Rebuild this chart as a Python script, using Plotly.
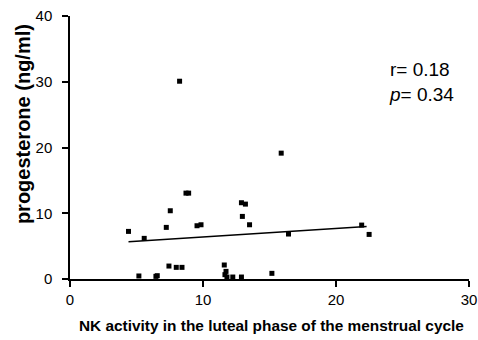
import plotly.graph_objects as go

nk_activity = [4.4, 5.58, 5.18, 6.46, 6.56, 7.24, 7.54, 7.44, 7.99, 8.42,
               8.24, 8.72, 8.92, 9.55, 9.85, 11.6, 11.73, 11.65, 11.8, 12.24,
               12.89, 13.19, 12.96, 13.5, 12.89, 15.18, 15.88, 16.43, 21.93, 22.49]
progesterone = [7.24, 6.18, 0.46, 0.4, 0.5, 7.85, 10.38, 1.97, 1.77, 1.77,
                30.08, 13.06, 13.06, 8.1, 8.25, 2.13, 1.16, 0.66, 0.3, 0.3,
                11.6, 11.39, 9.52, 8.25, 0.3, 0.86, 19.14, 6.84, 8.2, 6.78]
fit_x = [4.4, 22.3]
fit_y = [5.67, 8.0]

x_ticks = [0, 10, 20, 30]
y_ticks = [0, 10, 20, 30, 40]

font = "Liberation Sans, Arial, sans-serif"

fig = go.Figure()
fig.add_trace(go.Scatter(x=fit_x, y=fit_y, mode="lines",
                         line=dict(color="black", width=1.5), showlegend=False))
fig.add_trace(go.Scatter(x=nk_activity, y=progesterone, mode="markers",
                         marker=dict(symbol="square", size=5, color="black"),
                         showlegend=False, cliponaxis=False))

fig.update_layout(
    width=478, height=340,
    margin=dict(l=70, r=9, t=16, b=61),
    paper_bgcolor="white", plot_bgcolor="white",
    font=dict(family=font, color="black"),
    xaxis=dict(range=[0, 30], tickvals=x_ticks, showgrid=False, zeroline=False,
               showline=True, linecolor="black", linewidth=1.5, automargin=False,
               ticks="outside", ticklen=6, tickwidth=1.5, tickcolor="black",
               tickfont=dict(size=15, family=font), ticklabeloverflow="allow"),
    yaxis=dict(range=[0, 40], tickvals=y_ticks, showgrid=False, zeroline=False,
               showline=True, linecolor="black", linewidth=1.5, automargin=False,
               ticks="outside", ticklen=6, tickwidth=1.5, tickcolor="black",
               ticklabelstandoff=7,
               tickfont=dict(size=15, family=font), ticklabeloverflow="allow"),
    annotations=[
        dict(text="<b>progesterone (ng/ml)</b>", xref="paper", yref="paper",
             x=0, y=0.589, xanchor="center", yanchor="middle",
             xshift=-47, textangle=-90, showarrow=False,
             font=dict(size=20, family=font)),
        dict(text="<b>NK activity in the luteal phase of the menstrual cycle</b>",
             xref="paper", yref="paper", x=0.506, y=0, yshift=-46,
             xanchor="center", yanchor="middle", showarrow=False,
             font=dict(size=15.4, family=font)),
        dict(text="r= 0.18<br><i>p</i>= 0.34", xref="paper", yref="paper",
             x=0.794, y=0.845, xanchor="left", yanchor="top", align="left",
             showarrow=False, font=dict(size=19, family=font)),
    ],
)

fig.write_html("out.html",
               config={"displayModeBar": False},
               post_script="document.body.style.margin='0';"
                           "document.body.style.overflow='hidden';")
